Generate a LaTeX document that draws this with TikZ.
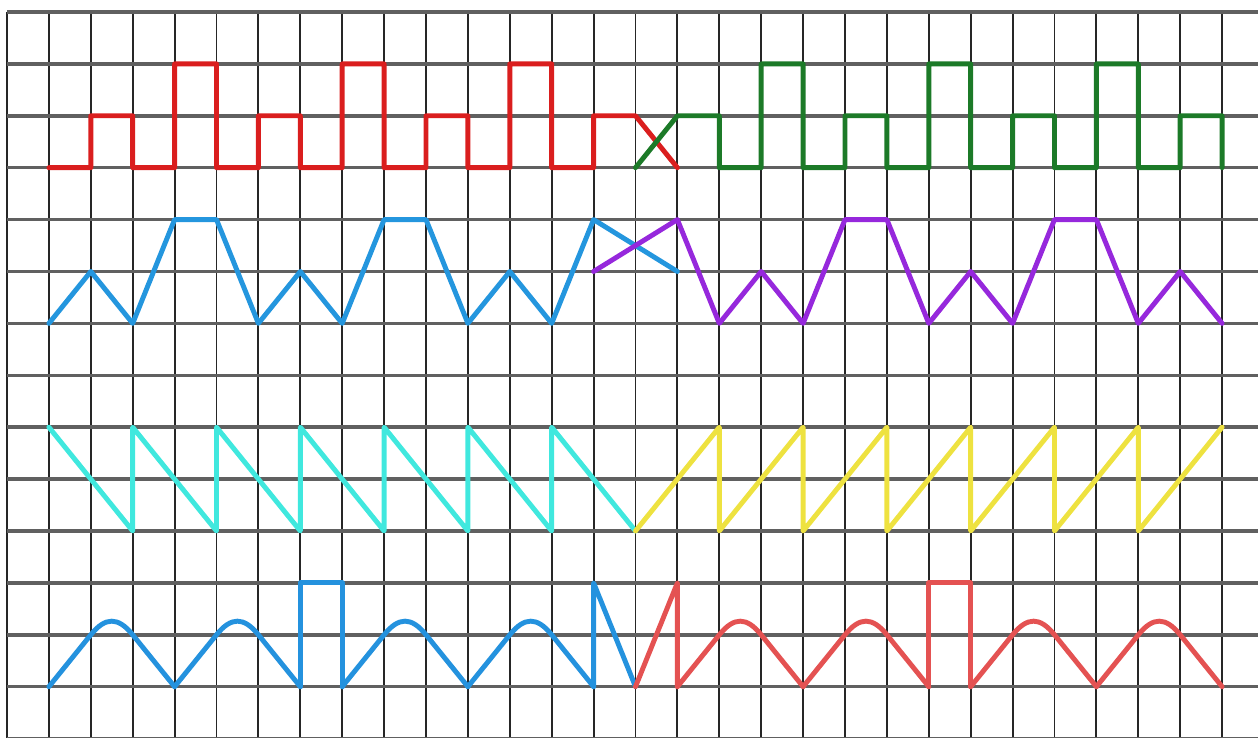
\documentclass[tikz,border=0pt]{standalone}
\usepackage{xcolor}
\usepackage{tikz}
\definecolor{SquareRed}{RGB}{218, 30, 30}
\definecolor{SquareGreen}{RGB}{28, 122, 40}
\definecolor{TriBlue}{RGB}{36, 150, 222}
\definecolor{TriPurple}{RGB}{150, 40, 220}
\definecolor{SawCyan}{RGB}{64, 232, 222}
\definecolor{SawYellow}{RGB}{238, 226, 64}
\definecolor{ArchBlue}{RGB}{36, 146, 222}
\definecolor{ArchRed}{RGB}{228, 82, 82}

\begin{document}
\begin{tikzpicture}[x=0.838cm, y=1.038cm,
    wave/.style={line width=2.8pt, line join=round, line cap=round}]
    \useasboundingbox (-0.167,0.231) rectangle (29.857,-13.988);

    % 网格
    \foreach \c in {0,...,29}
        \draw[line width=1.1pt, black!85] (\c,0) -- (\c,-14);
    \foreach \r in {0,...,14}
        \draw[line width=2pt, gray!75!black] (0,-\r) -- (29.857,-\r);

    % 方波 - 红色 / 绿色
    \draw[wave, SquareRed] (1,-3) -- (2,-3) -- (2,-2) -- (3,-2) -- (3,-3) -- (4,-3) -- (4,-1) -- (5,-1) -- (5,-3)
        -- (6,-3) -- (6,-2) -- (7,-2) -- (7,-3) -- (8,-3) -- (8,-1) -- (9,-1) -- (9,-3)
        -- (10,-3) -- (10,-2) -- (11,-2) -- (11,-3) -- (12,-3) -- (12,-1) -- (13,-1) -- (13,-3)
        -- (14,-3) -- (14,-2) -- (15,-2) -- (16,-3);
    \draw[wave, SquareGreen] (15,-3) -- (16,-2) -- (17,-2) -- (17,-3) -- (18,-3) -- (18,-1) -- (19,-1) -- (19,-3)
        -- (20,-3) -- (20,-2) -- (21,-2) -- (21,-3) -- (22,-3) -- (22,-1) -- (23,-1) -- (23,-3)
        -- (24,-3) -- (24,-2) -- (25,-2) -- (25,-3) -- (26,-3) -- (26,-1) -- (27,-1) -- (27,-3)
        -- (28,-3) -- (28,-2) -- (29,-2) -- (29,-3);

    % 三角波 - 蓝色 / 紫色
    \draw[wave, TriBlue] (1,-6) -- (2,-5) -- (3,-6) -- (4,-4) -- (5,-4) -- (6,-6) -- (7,-5) -- (8,-6)
        -- (9,-4) -- (10,-4) -- (11,-6) -- (12,-5) -- (13,-6) -- (14,-4) -- (16,-5);
    \draw[wave, TriPurple] (14,-5) -- (16,-4) -- (17,-6) -- (18,-5) -- (19,-6) -- (20,-4) -- (21,-4) -- (22,-6)
        -- (23,-5) -- (24,-6) -- (25,-4) -- (26,-4) -- (27,-6) -- (28,-5) -- (29,-6);

    % 锯齿波 - 青色 / 黄色
    \draw[wave, SawCyan] (1,-8) -- (3,-10) -- (3,-8) -- (5,-10) -- (5,-8) -- (7,-10) -- (7,-8)
        -- (9,-10) -- (9,-8) -- (11,-10) -- (11,-8) -- (13,-10) -- (13,-8) -- (15,-10);
    \draw[wave, SawYellow] (15,-10) -- (17,-8) -- (17,-10) -- (19,-8) -- (19,-10) -- (21,-8) -- (21,-10)
        -- (23,-8) -- (23,-10) -- (25,-8) -- (25,-10) -- (27,-8) -- (27,-10) -- (29,-8);

    % 拱形波 - 蓝色 / 红色
    \foreach \a in {1,4,8,11}
        \draw[wave, ArchBlue] (\a,-13) -- (\a+1,-12) .. controls (\a+1.35,-11.65) and (\a+1.65,-11.65) .. (\a+2,-12) -- (\a+3,-13);
    \draw[wave, ArchBlue] (7,-13) -- (7,-11) -- (8,-11) -- (8,-13);
    \draw[wave, ArchBlue] (14,-13) -- (14,-11) -- (15,-13);
    \foreach \a in {16,19,23,26}
        \draw[wave, ArchRed] (\a,-13) -- (\a+1,-12) .. controls (\a+1.35,-11.65) and (\a+1.65,-11.65) .. (\a+2,-12) -- (\a+3,-13);
    \draw[wave, ArchRed] (15,-13) -- (16,-11) -- (16,-13);
    \draw[wave, ArchRed] (22,-13) -- (22,-11) -- (23,-11) -- (23,-13);

\end{tikzpicture}
\end{document}
